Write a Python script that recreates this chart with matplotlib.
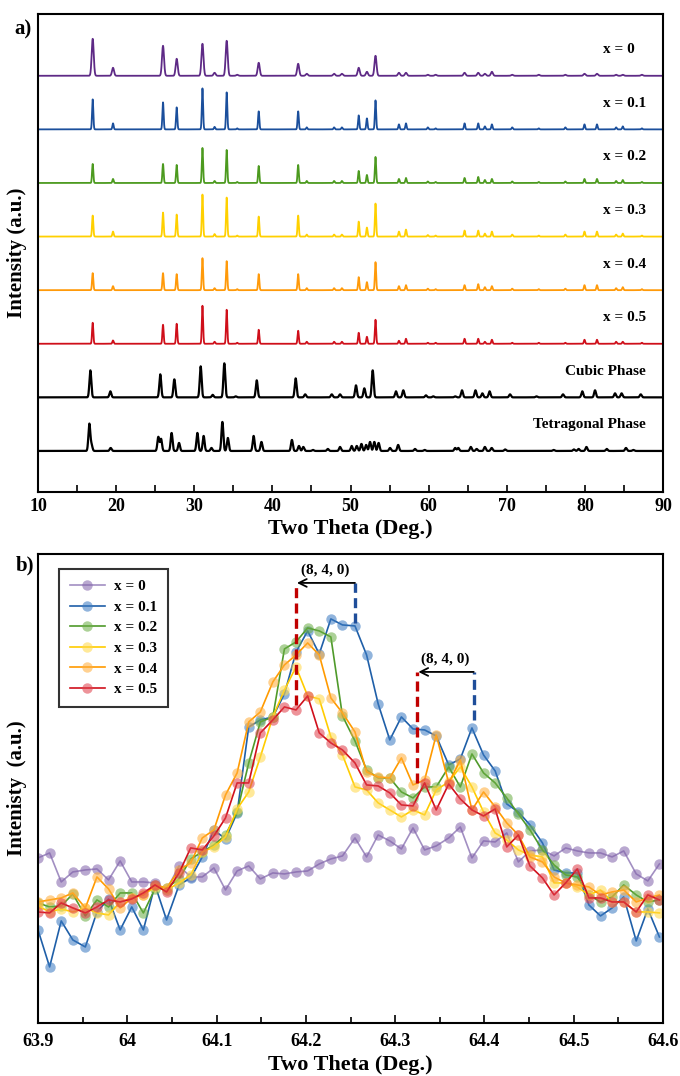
import numpy as np
import matplotlib.pyplot as plt

plt.rcParams['font.family'] = ['Liberation Serif', 'DejaVu Serif']
plt.rcParams['font.weight'] = 'bold'

# ---- panel a) peak lists (2theta, height a.u.) ----
sample_pos = [17.0, 19.6, 26.0, 27.75, 31.05, 32.6, 34.15, 35.5, 38.25, 43.3, 44.4, 47.9,
              48.9, 51.05, 52.1, 53.2, 56.2, 57.1, 59.9, 60.9, 64.6, 66.35, 67.2, 68.1,
              70.7, 74.1, 77.5, 79.95, 81.55, 84.0, 84.85, 87.3]
h_x0 = [37, 8, 30, 17, 32, 3, 35, 1, 13, 12, 2, 2, 2, 8, 4, 20, 3, 3, 1, 1, 3, 3, 2, 4, 1, 1, 1, 2, 2, 1, 1, 1]
h_x01 = [30, 6, 27, 22, 41, 2.5, 37, 1, 18, 18, 2, 2, 2, 14, 11, 29, 5, 6, 2, 1, 6, 6, 3, 5, 2, 1, 2, 5, 5, 2, 3, 1]
h_x02 = [19, 4, 19, 18, 35, 2, 33, 1, 17, 18, 2, 2, 2, 12, 8, 26, 4, 5, 1.5, 1, 5, 6, 3, 4, 1.5, 1, 1.5, 4, 4, 2, 3, 1]
h_x03 = [21, 5, 24, 22, 42, 2.5, 39, 1, 20, 21, 2, 2, 2, 15, 9, 33, 5, 7, 1.5, 1, 6, 6, 3, 5, 2, 1, 2, 5, 5, 2, 3, 1]
h_x04 = [17, 4, 17, 16, 32, 2, 29, 1, 16, 16, 2, 2, 2, 13, 8, 28, 4, 5, 1.5, 1, 5, 6, 3, 4, 1.5, 1, 1.5, 5, 5, 2, 3, 1]
h_x05 = [21, 3.3, 19, 20, 38, 2, 34, 1, 14, 13, 2, 2, 2, 11, 7, 24, 3, 5, 1, 1, 5, 5, 2, 4, 1, 1, 1, 4, 4, 2, 2, 1]

cubic_pos = [16.7, 19.26, 25.65, 27.45, 30.82, 32.36, 33.85, 35.3, 38.0, 42.98, 44.2, 47.6,
             48.66, 50.7, 51.77, 52.84, 55.82, 56.76, 59.66, 60.6, 63.4, 64.27, 66.0, 66.88,
             67.8, 70.42, 73.8, 77.2, 79.67, 81.3, 83.86, 84.7, 87.15]
cubic_h = [27, 6, 23, 18, 31, 2.5, 34, 1, 17, 19, 3, 3, 3, 12, 9, 27, 6, 7, 2, 1, 1, 7, 7, 4,
           6, 3, 1, 3, 6, 7, 4, 4, 3]

tetra_pos = [16.57, 16.85, 19.3, 25.4, 25.75, 27.1, 28.05, 30.4, 31.2, 32.2, 33.6, 34.3, 37.6,
             38.6, 42.5, 43.4, 43.96, 45.2, 47.1, 48.66, 50.15, 50.8, 51.4, 52.0, 52.5, 53.05,
             53.6, 55.06, 56.1, 58.26, 59.5, 63.4, 63.8, 65.4, 66.15, 67.2, 68.07, 69.8, 76.0,
             78.6, 79.2, 80.2, 82.8, 85.26, 86.2]
tetra_h = [27, 6, 3, 14, 12, 18, 8, 18, 15, 3, 29, 13, 15, 9, 11, 5, 4, 1, 2, 4, 5, 5, 7, 6,
           9, 9, 8, 3, 6, 2, 1, 3, 3, 4, 2, 4, 3, 1.5, 1, 1.5, 2, 4, 2, 3, 1]

top_labels = ['x = 0', 'x = 0.1', 'x = 0.2', 'x = 0.3', 'x = 0.4', 'x = 0.5',
              'Cubic Phase', 'Tetragonal Phase']

# ---- panel b) scan around the (8, 4, 0) reflection ----
two_theta_b = [63.900, 63.913, 63.926, 63.939, 63.953, 63.966, 63.979, 63.992, 64.005, 64.018,
               64.031, 64.044, 64.058, 64.071, 64.084, 64.097, 64.110, 64.123, 64.136, 64.149,
               64.163, 64.176, 64.189, 64.202, 64.215, 64.228, 64.241, 64.255, 64.268, 64.281,
               64.294, 64.307, 64.320, 64.333, 64.346, 64.360, 64.373, 64.386, 64.399, 64.412,
               64.425, 64.438, 64.451, 64.465, 64.478, 64.491, 64.504, 64.517, 64.530, 64.543,
               64.556, 64.570, 64.583, 64.596]
i_x0 = [165, 170, 141, 151, 153, 154, 143, 162, 141, 141, 140, 133, 157, 146, 146, 155, 133, 152,
        157, 144, 150, 149, 151, 152, 159, 164, 167, 185, 166, 188, 182, 174, 195, 173, 177, 185,
        196, 165, 182, 181, 190, 161, 172, 173, 167, 175, 172, 170, 170, 166, 172, 149, 142, 159]
i_x01 = [93, 56, 102, 83, 76, 111, 124, 93, 116, 93, 138, 103, 138, 145, 166, 193, 184, 210,
         296, 303, 306, 329, 371, 392, 369, 404, 398, 397, 368, 319, 283, 306, 294, 293, 287, 258,
         264, 295, 268, 252, 219, 211, 198, 180, 153, 150, 150, 118, 107, 115, 126, 82, 114, 86]
i_x02 = [120, 116, 117, 129, 107, 123, 116, 130, 130, 110, 134, 135, 144, 164, 171, 178, 188, 211,
         260, 301, 306, 374, 381, 395, 392, 386, 307, 282, 253, 245, 245, 231, 225, 236, 236, 256,
         236, 269, 250, 240, 225, 209, 193, 173, 158, 148, 146, 128, 121, 126, 138, 128, 121, 123]
i_x03 = [117, 111, 114, 111, 115, 110, 108, 121, 125, 128, 136, 133, 140, 148, 171, 176, 186, 214,
         231, 266, 306, 333, 356, 327, 324, 286, 268, 236, 233, 220, 213, 206, 213, 208, 233, 241,
         256, 236, 211, 190, 183, 173, 168, 166, 140, 140, 136, 128, 133, 121, 121, 111, 111, 110]
i_x04 = [121, 123, 125, 130, 115, 146, 134, 115, 125, 128, 138, 135, 153, 160, 185, 193, 228, 250,
         301, 311, 341, 358, 368, 380, 368, 325, 310, 291, 251, 246, 245, 265, 238, 243, 288, 240,
         263, 213, 231, 216, 200, 188, 166, 161, 146, 140, 138, 136, 128, 131, 133, 121, 125, 128]
i_x05 = [111, 110, 120, 115, 110, 116, 123, 121, 124, 130, 138, 131, 150, 175, 173, 187, 205, 240,
         240, 290, 303, 316, 313, 327, 290, 280, 273, 260, 238, 237, 230, 218, 217, 240, 213, 239,
         224, 213, 207, 214, 176, 188, 157, 145, 128, 140, 154, 125, 125, 121, 121, 111, 128, 123]
series_labels = ['x = 0', 'x = 0.1', 'x = 0.2', 'x = 0.3', 'x = 0.4', 'x = 0.5']

# peak shift markers
shift_red = [64.189, 64.325]
shift_blue = [64.255, 64.388]
shift_top = [440, 351]
shift_red_bottom = [318, 240]
shift_blue_bottom = [400, 303]

top_colors = ['#5E2A86', '#1B4F9C', '#4C9A1F', '#FFD000', '#FF9A0A', '#CF0F1A', 'black', 'black']
line_colors = ['#A28FC2', '#1F5FA8', '#4F9A2A', '#FFCC00', '#FF9A00', '#D0101C']
marker_colors = ['#8466AC', '#3C7BC2', '#6DAF47', '#FFD84A', '#FFAE3C', '#E0404B']

fig = plt.figure(figsize=(6.8, 10.76), dpi=100)
ax1 = fig.add_axes([0.0559, 0.5428, 0.9191, 0.4442])
ax2 = fig.add_axes([0.0559, 0.0493, 0.9191, 0.4359])

# ---------------- panel a ----------------
tt = np.linspace(10, 90, 8001)


def pattern(pos, h, sigma):
    y = np.zeros_like(tt)
    for p, a in zip(pos, h):
        y += a * np.exp(-0.5 * ((tt - p) / sigma) ** 2)
    return y


curves = [pattern(sample_pos, h_x0, 0.13), pattern(sample_pos, h_x01, 0.08),
          pattern(sample_pos, h_x02, 0.08), pattern(sample_pos, h_x03, 0.08),
          pattern(sample_pos, h_x04, 0.08), pattern(sample_pos, h_x05, 0.08),
          pattern(cubic_pos, cubic_h, 0.12), pattern(tetra_pos, tetra_h, 0.12)]
step = 53.6
for k, (y, c, lab) in enumerate(zip(curves, top_colors, top_labels)):
    base = 41 + step * (7 - k)
    ax1.plot(tt, y + base, color=c, lw=1.6 if k >= 6 else 1.3)
    if k < 6:
        ax1.text(82.3, base + 26, lab, ha='left', va='center', fontsize=11, fontweight='bold')
    else:
        ax1.text(87.8, base + 26, lab, ha='right', va='center', fontsize=11, fontweight='bold')

ax1.set_xlim(10, 90)
ax1.set_ylim(0, 478)
ax1.set_yticks([])
ax1.set_xticks(range(10, 91, 10))
ax1.set_xticks(range(15, 90, 10), minor=True)
ax1.tick_params(axis='x', which='both', direction='in', length=5, width=1.2,
                labelsize=13, pad=4)
ax1.set_xlabel('Two Theta (Deg.)', fontsize=16, fontweight='bold', labelpad=3)
ax1.set_ylabel('Intensity (a.u.)', fontsize=15, fontweight='bold', labelpad=8)

# ---------------- panel b ----------------
series = [i_x0, i_x01, i_x02, i_x03, i_x04, i_x05]
for y, lc, mc, lab in zip(series, line_colors, marker_colors, series_labels):
    ax2.plot(two_theta_b, y, '-', color=lc, lw=1.2, marker='o', ms=7.5,
             markerfacecolor=mc + '90', markeredgecolor='none', label=lab)

for xr, xb, top, rb, bb in zip(shift_red, shift_blue, shift_top, shift_red_bottom, shift_blue_bottom):
    ax2.plot([xr, xr], [rb, top], color='#C00000', lw=2.4, ls=(0, (3, 1.6)))
    ax2.plot([xb, xb], [bb, top], color='#1F4E9A', lw=2.4, ls=(0, (3, 1.6)))
    ax2.annotate('', xy=(xr + 0.001, top), xytext=(xb, top),
                 arrowprops=dict(arrowstyle='->', color='black', lw=1.3,
                                 shrinkA=0, shrinkB=0, mutation_scale=14))
    ax2.text((xr + xb) / 2, top + 13, '(8, 4, 0)', ha='center', va='center',
             fontsize=11, fontweight='bold')

ax2.set_xlim(63.9, 64.6)
ax2.set_ylim(0, 469)
ax2.set_yticks([])
ax2.set_xticks([63.9, 64.0, 64.1, 64.2, 64.3, 64.4, 64.5, 64.6])
ax2.set_xticklabels(['63.9', '64', '64.1', '64.2', '64.3', '64.4', '64.5', '64.6'])
ax2.set_xticks([63.95, 64.05, 64.15, 64.25, 64.35, 64.45, 64.55], minor=True)
ax2.tick_params(axis='x', which='major', direction='in', length=6, width=1.2,
                labelsize=13, pad=7)
ax2.tick_params(axis='x', which='minor', direction='in', length=4, width=1.2)
ax2.set_xlabel('Two Theta (Deg.)', fontsize=16, fontweight='bold', labelpad=4)
ax2.set_ylabel('Intenisty  (a.u.)', fontsize=15, fontweight='bold', labelpad=8)

leg = ax2.legend(loc='upper left', bbox_to_anchor=(0.0336, 0.968), borderaxespad=0,
                 fontsize=11, frameon=True, fancybox=False, edgecolor='black',
                 handlelength=2.3, handletextpad=0.6, labelspacing=0.45, borderpad=0.7)
leg.get_frame().set_linewidth(1.5)
for t in leg.get_texts():
    t.set_fontweight('bold')

for ax in (ax1, ax2):
    for s in ax.spines.values():
        s.set_linewidth(1.5)

fig.text(14 / 680, 1 - 29 / 1076, 'a)', fontsize=15, fontweight='bold', ha='left', va='center')
fig.text(16 / 680, 1 - 565 / 1076, 'b)', fontsize=15, fontweight='bold', ha='left', va='center')

fig.savefig('out.png', dpi=100)
